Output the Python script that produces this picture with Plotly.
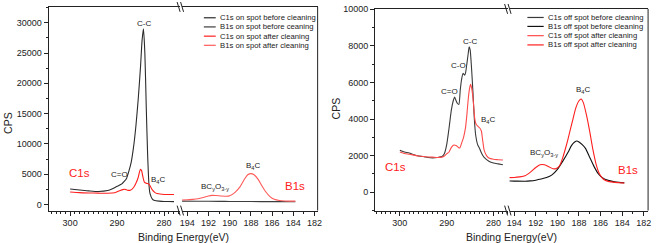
import plotly.graph_objects as go

# ---------------- DATA ----------------
# Left panel: on spot
c1s_on_before_e = [300, 298, 296, 294, 292, 291, 290, 289, 288.5, 288, 287.5, 287, 286.5, 286, 285.5, 285,
                   284.7, 284.4, 284.1, 283.8, 283.5, 283.2, 283, 282.5, 282, 281, 280, 279, 277.9]
c1s_on_before_c = [2550, 2400, 2250, 2150, 2300, 2600, 3000, 3400, 3800, 4300, 5500, 7000, 9500, 13000, 17500, 23000,
                   27000, 29000, 25000, 16000, 8000, 3000, 1800, 900, 650, 550, 500, 480, 470]

c1s_on_after_e = [300, 298, 296, 294, 292, 290.5, 289.5, 288.8, 288.3, 287.8, 287.2, 286.5, 286, 285.5, 285.2, 285,
                  284.8, 284.5, 284.2, 283.8, 283.3, 283, 282.5, 282, 281.5, 280.5, 279, 277.9]
c1s_on_after_c = [2050, 1950, 1900, 1870, 1850, 1950, 2250, 2450, 2500, 2350, 2350, 2800, 3500, 4500, 5500, 5800,
                  5600, 4500, 3700, 3500, 3400, 3100, 2400, 2000, 1800, 1700, 1650, 1650]

b1s_on_before_e = [195, 193, 191, 190, 188, 186, 184, 183.8]
b1s_on_before_c = [560, 540, 520, 500, 490, 470, 460, 460]

b1s_on_after_e = [195, 194, 193.5, 193, 192.5, 192, 191.7, 191.3, 190.8, 190.3, 190, 189.5, 189, 188.6, 188.3, 188,
                  187.7, 187.3, 187, 186.6, 186.2, 185.8, 185.3, 184.8, 184.3, 183.8]
b1s_on_after_c = [720, 780, 850, 950, 1150, 1400, 1500, 1480, 1400, 1350, 1450, 2000, 3000, 4200, 4900, 5100,
                  4900, 4100, 3200, 2100, 1300, 850, 650, 580, 560, 550]

# Right panel: off spot
c1s_off_before_e = [300, 299, 298, 297, 296, 295, 294, 293, 292, 291, 290.5, 290, 289.5, 289, 288.6, 288.3, 288,
                    287.7, 287.4, 287.1, 286.8, 286.5, 286.2, 286, 285.7, 285.4, 285.2, 285, 284.7, 284.4, 284.1,
                    283.8, 283.4, 283, 282.5, 282, 281, 280, 279, 278]
c1s_off_before_c = [2300, 2200, 2150, 2050, 1980, 1950, 1900, 1880, 1900, 1950, 2100, 2600, 3500, 4500, 5000, 5200, 5000,
                    4850, 4800, 5600, 6200, 6500, 6400, 6500, 7000, 7600, 7950, 7800, 6800, 5500, 4000,
                    3100, 2600, 2400, 2100, 1900, 1700, 1600, 1550, 1500]

c1s_off_after_e = [300, 299, 298, 297, 296, 295, 294, 293, 292, 291, 290.5, 290, 289.5, 289, 288.5, 288, 287.5, 287.2,
                   286.8, 286.4, 286, 285.7, 285.4, 285.1, 284.9, 284.6, 284.3, 284.0, 283.7, 283.3, 282.9, 282.6,
                   282.3, 282, 281.5, 281, 280, 279, 278]
c1s_off_after_c = [2200, 2120, 2080, 2030, 1980, 1950, 1930, 1920, 1900, 1920, 1980, 2100, 2200, 2450, 2580, 2550, 2450, 2420,
                   2700, 3000, 3500, 4200, 5100, 5700, 5900, 5600, 4900, 4000, 3700, 3600, 3500, 3350,
                   2800, 2300, 2000, 1870, 1800, 1780, 1760]

b1s_off_before_e = [195, 194, 193, 192.5, 192, 191.5, 191, 190.5, 190, 189.5, 189, 188.7, 188.4, 188.2, 188, 187.7,
                    187.4, 187, 186.6, 186.2, 185.8, 185.3, 184.8, 184.3, 183.8]
b1s_off_before_c = [620, 610, 600, 620, 660, 720, 800, 950, 1250, 1700, 2200, 2550, 2750, 2800, 2750, 2600,
                    2400, 1900, 1400, 1000, 780, 650, 580, 540, 520]

b1s_off_after_e = [195, 194.5, 194, 193.5, 193, 192.5, 192, 191.6, 191.2, 190.8, 190.4, 190.1, 189.8, 189.5, 189.2, 189,
                   188.6, 188.3, 188, 187.8, 187.6, 187.3, 187, 186.7, 186.4, 186.1, 185.7, 185.2, 184.7, 184.2, 183.8]
b1s_off_after_c = [800, 800, 810, 840, 900, 1100, 1350, 1500, 1500, 1400, 1280, 1300, 1450, 1900, 2500, 2950,
                   3900, 4600, 5000, 5100, 4900, 4200, 3300, 2300, 1500, 1000, 700, 580, 540, 520, 500]

legend_on = ["C1s on spot before cleaning", "B1s on spot before ceaning",
             "C1s on spot after cleaning", "B1s on spot after cleaning"]
legend_off = ["C1s off spot before cleaning", "B1s off spot before cleaning",
              "C1s off spot after cleaning", "B1s off spot after cleaning"]

yticks_on = [0, 5000, 10000, 15000, 20000, 25000, 30000]
yticks_off = [0, 2000, 4000, 6000, 8000, 10000]
xticks_c = [300, 290, 280]
xticks_b = [194, 192, 190, 188, 186, 184, 182]

# ---------------- STYLE ----------------
W, H = 660, 243
FONT = "Liberation Sans, Arial, sans-serif"
cols_on = ["#2b2b2b", "#3c3c3c", "#ff1f1f", "#ff5a5a"]
cols_off = ["#3a3a3a", "#111111", "#ff4a4a", "#ff1f1f"]


def px(x):
    return x / W


def py(y):
    return 1 - y / H


fig = go.Figure()

traces = [
    (c1s_on_before_e, c1s_on_before_c, "x", "y", cols_on[0]),
    (b1s_on_before_e, b1s_on_before_c, "x2", "y", cols_on[1]),
    (c1s_on_after_e, c1s_on_after_c, "x", "y", cols_on[2]),
    (b1s_on_after_e, b1s_on_after_c, "x2", "y", cols_on[3]),
    (c1s_off_before_e, c1s_off_before_c, "x3", "y2", cols_off[0]),
    (b1s_off_before_e, b1s_off_before_c, "x4", "y2", cols_off[1]),
    (c1s_off_after_e, c1s_off_after_c, "x3", "y2", cols_off[2]),
    (b1s_off_after_e, b1s_off_after_c, "x4", "y2", cols_off[3]),
]
for xs, ys, xa, ya, c in traces:
    fig.add_trace(go.Scatter(x=xs, y=ys, xaxis=xa, yaxis=ya, mode="lines",
                             line=dict(color=c, width=1.1, shape="spline", smoothing=0.6),
                             showlegend=False, hoverinfo="skip"))

tickfont = dict(family=FONT, size=9, color="#222")
xcommon = dict(showline=True, linecolor="#222", linewidth=1, mirror=True, ticks="outside",
               ticklen=4, tickwidth=1, tickcolor="#222", showgrid=False, zeroline=False,
               tickfont=tickfont, fixedrange=True)
ycommon = dict(showline=True, linecolor="#222", linewidth=1, mirror=False, ticks="outside",
               ticklen=4, tickwidth=1, tickcolor="#222", showgrid=False, zeroline=False,
               tickfont=tickfont, fixedrange=True, tickformat="d")

minor_c = dict(dtick=1, ticklen=2, tickcolor="#222", ticks="outside", tick0=300)
minor_b = dict(dtick=1, ticklen=2, tickcolor="#222", ticks="outside", tick0=194)

fig.update_layout(
    width=W, height=H, margin=dict(l=0, r=0, t=0, b=0),
    paper_bgcolor="white", plot_bgcolor="white", showlegend=False,
    font=dict(family=FONT, color="#222"),
    xaxis=dict(domain=[px(46), px(179)], range=[304.6, 276.6], anchor="y",
               tickvals=xticks_c, minor=minor_c, **xcommon),
    xaxis2=dict(domain=[px(181), px(318)], range=[194.5, 181.7], anchor="y",
                tickvals=xticks_b, minor=minor_b, **xcommon),
    yaxis=dict(domain=[py(210), py(3)], range=[-1000, 32600], anchor="x",
               tickvals=yticks_on, minor=dict(dtick=2500, tick0=0, ticklen=2, ticks="outside", tickcolor="#222"),
               **ycommon),
    xaxis3=dict(domain=[px(376), px(510)], range=[305.3, 277.0], anchor="y2",
                tickvals=xticks_c, minor=minor_c, **xcommon),
    xaxis4=dict(domain=[px(512), px(652)], range=[194.43, 181.6], anchor="y2",
                tickvals=xticks_b, minor=minor_b, **xcommon),
    yaxis2=dict(domain=[py(210), py(5)], range=[-1000, 10020], anchor="x3",
                tickvals=yticks_off, minor=dict(dtick=1000, tick0=0, ticklen=2, ticks="outside", tickcolor="#222"),
                **ycommon),
)

shapes = []
# right frame borders
for xr, yt in [(318, 3), (652, 5)]:
    shapes.append(dict(type="line", xref="paper", yref="paper", x0=px(xr), x1=px(xr),
                       y0=py(210), y1=py(yt), line=dict(color="#222", width=1)))
# axis break marks
for cx, yt in [(180, 3), (511, 5)]:
    for yy in (yt, 210):
        for dx in (-2.5, 1.0):
            shapes.append(dict(type="line", xref="paper", yref="paper",
                               x0=px(cx + dx - 1.5), x1=px(cx + dx + 1.5),
                               y0=py(yy - 5), y1=py(yy + 5), line=dict(color="#222", width=1)))
# manual legends
for labels, cols, x0, x1, ys in [(legend_on, cols_on, 203, 215, [14, 23.3, 32.7, 42]),
                                  (legend_off, cols_off, 530, 546.5, [13.7, 22.8, 32.2, 41.6])]:
    for lab, c, yy in zip(labels, cols, ys):
        shapes.append(dict(type="line", xref="paper", yref="paper", x0=px(x0), x1=px(x1),
                           y0=py(yy), y1=py(yy), line=dict(color=c, width=1.2)))
        fig.add_annotation(text=lab, xref="paper", yref="paper", x=px(x1 + 2), y=py(yy),
                           xanchor="left", yanchor="middle", showarrow=False,
                           font=dict(family=FONT, size=7.7, color="#222"))
fig.update_layout(shapes=shapes)

# peak labels (data coordinates)
lab_font = dict(family=FONT, size=8, color="#222")
red_font = dict(family=FONT, size=11.5, color="#ff2020")
peak_labels = [
    ("C-C", "x", "y", 284.35, 29800, lab_font),
    ("C=O", "x", "y", 289.4, 4980, lab_font),
    ("B<sub>4</sub>C", "x", "y", 281.2, 4050, lab_font),
    ("C1s", "x", "y", 298.0, 5230, red_font),
    ("BC<sub>y</sub>O<sub>3-y</sub>", "x2", "y", 191.35, 2900, lab_font),
    ("B<sub>4</sub>C", "x2", "y", 187.85, 6300, lab_font),
    ("B1s", "x2", "y", 183.85, 2970, red_font),
    ("C-C", "x3", "y2", 285.0, 8250, lab_font),
    ("C-O", "x3", "y2", 287.5, 6900, lab_font),
    ("C=O", "x3", "y2", 289.3, 5530, lab_font),
    ("B<sub>4</sub>C", "x3", "y2", 281.2, 3950, lab_font),
    ("C1s", "x3", "y2", 300.9, 1380, red_font),
    ("BC<sub>y</sub>O<sub>3-y</sub>", "x4", "y2", 191.25, 2150, lab_font),
    ("B<sub>4</sub>C", "x4", "y2", 187.65, 5600, lab_font),
    ("B1s", "x4", "y2", 183.5, 1240, red_font),
]
for t, xa, ya, xv, yv, f in peak_labels:
    fig.add_annotation(text=t, xref=xa, yref=ya, x=xv, y=yv, showarrow=False, font=f)

# axis titles
title_font = dict(family=FONT, size=10.5, color="#222")
for cx in (182.5, 514):
    fig.add_annotation(text="Binding Energy(eV)", xref="paper", yref="paper", x=px(cx), y=py(236.5),
                       showarrow=False, font=title_font, xanchor="center", yanchor="middle")
for cx, cy in [(5, 121), (336.7, 106)]:
    fig.add_annotation(text="CPS", xref="paper", yref="paper", x=px(cx), y=py(cy), textangle=-90,
                       showarrow=False, font=title_font, xanchor="center", yanchor="middle")

fig.write_html("out.html", config={"displayModeBar": False},
               post_script="document.body.style.margin='0px';document.body.style.overflow='hidden';")
